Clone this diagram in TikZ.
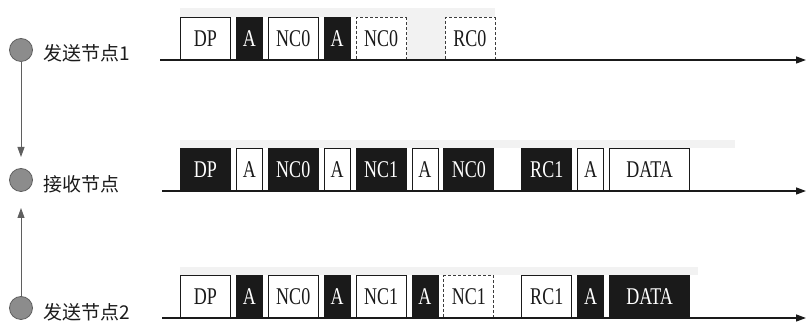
\documentclass[tikz,border=0pt]{standalone}
\usepackage{fontspec}
\setmainfont{Liberation Serif}
\newfontfamily\cjk{Noto Sans CJK SC}
\newfontfamily\slotfont[FakeStretch=0.75]{Liberation Serif}
\usepackage{tikz}
\usetikzlibrary{positioning,arrows.meta,backgrounds}
\definecolor{inkdark}{HTML}{1A1A1A}
\definecolor{nodegray}{HTML}{8C8C8C}

\begin{document}
\begin{tikzpicture}[x=1pt, y=1pt,
  slot/.style={
    rectangle, draw=inkdark, line width=0.9pt, fill=white,
    inner sep=0pt, minimum height=42pt, minimum width=50pt,
    font=\slotfont\fontsize{24}{24}\selectfont, text=inkdark,
  },
  ack/.style={slot, minimum width=26pt},
  busy/.style={fill=inkdark, text=white},
  lost/.style={draw=inkdark!85, densely dashed},
  station/.style={
    circle, draw=inkdark!70, line width=0.8pt, fill=nodegray,
    minimum size=23pt, inner sep=0pt,
  },
  stname/.style={anchor=west, inner sep=0pt, font=\cjk\fontsize{19}{20}\selectfont, text=inkdark},
  timeline/.style={line width=1.3pt, draw=inkdark, -{Triangle[length=10pt,width=7pt]}},
  joinline/.style={line width=0.9pt, draw=inkdark!70, -{Triangle[length=10pt,width=7pt]}},
  haze/.style={fill=black!5, draw=none},
]
\useasboundingbox (0,0) rectangle (807,323);

% stations on the left
\node[station] (tx1) at (21,273) {};
\node[station] (rx)  at (21,143) {};
\node[station] (tx2) at (21,15)  {};
\node[stname] (tx1name) at (43,270) {发送节点1};
\node[stname] (rxname)  at (43,139) {接收节点};
\node[stname] (tx2name) at (43,11)  {发送节点2};

\coordinate (tx1tip) at (21,166);
\coordinate (tx2tip) at (21,115);
\draw[joinline] (tx1) -- (tx1tip);
\draw[joinline] (tx2) -- (tx2tip);

% time axes
\coordinate (t1) at (160,263); \coordinate (t1end) at (806,263);
\coordinate (t2) at (162,132); \coordinate (t2end) at (806,132);
\coordinate (t3) at (162,5);   \coordinate (t3end) at (806,5);

% sender 1
\node[slot, anchor=south west] (a1) at (180,263) {DP};
\node[ack, busy, right=5pt of a1] (a2) {A};
\node[slot, right=5pt of a2] (a3) {NC0};
\node[ack, busy, right=5pt of a3] (a4) {A};
\node[slot, lost, right=5pt of a4] (a5) {NC0};
\node[slot, lost, right=38pt of a5] (a6) {RC0};

% receiver
\node[slot, busy, anchor=south west] (b1) at (180,132) {DP};
\node[ack, right=5pt of b1] (b2) {A};
\node[slot, busy, right=5pt of b2] (b3) {NC0};
\node[ack, right=5pt of b3] (b4) {A};
\node[slot, busy, right=5pt of b4] (b5) {NC1};
\node[ack, right=5pt of b5] (b6) {A};
\node[slot, busy, right=5pt of b6] (b7) {NC0};
\node[slot, busy, right=27pt of b7] (b8) {RC1};
\node[ack, right=5pt of b8] (b9) {A};
\node[slot, minimum width=80pt, right=5pt of b9] (b10) {DATA};

% sender 2
\node[slot, anchor=south west] (c1) at (180,5) {DP};
\node[ack, busy, right=5pt of c1] (c2) {A};
\node[slot, right=5pt of c2] (c3) {NC0};
\node[ack, busy, right=5pt of c3] (c4) {A};
\node[slot, right=5pt of c4] (c5) {NC1};
\node[ack, busy, right=5pt of c5] (c6) {A};
\node[slot, lost, right=5pt of c6] (c7) {NC1};
\node[slot, right=27pt of c7] (c8) {RC1};
\node[ack, busy, right=5pt of c8] (c9) {A};
\node[slot, busy, minimum width=80pt, right=5pt of c9] (c10) {DATA};

\draw[timeline] (t1) -- (t1end);
\draw[timeline] (t2) -- (t2end);
\draw[timeline] (t3) -- (t3end);

% faint band above the slots
\begin{scope}[on background layer]
  \fill[haze] (a1.north west) rectangle ([yshift=9pt]a6.north east);
  \fill[haze] (a5.north east) rectangle (a6.south west);
  \fill[haze] (b1.north west) rectangle ([xshift=45pt,yshift=8pt]b10.north east);
  \fill[haze] (c1.north west) rectangle ([xshift=8pt,yshift=8pt]c10.north east);
\end{scope}

\end{tikzpicture}
\end{document}
